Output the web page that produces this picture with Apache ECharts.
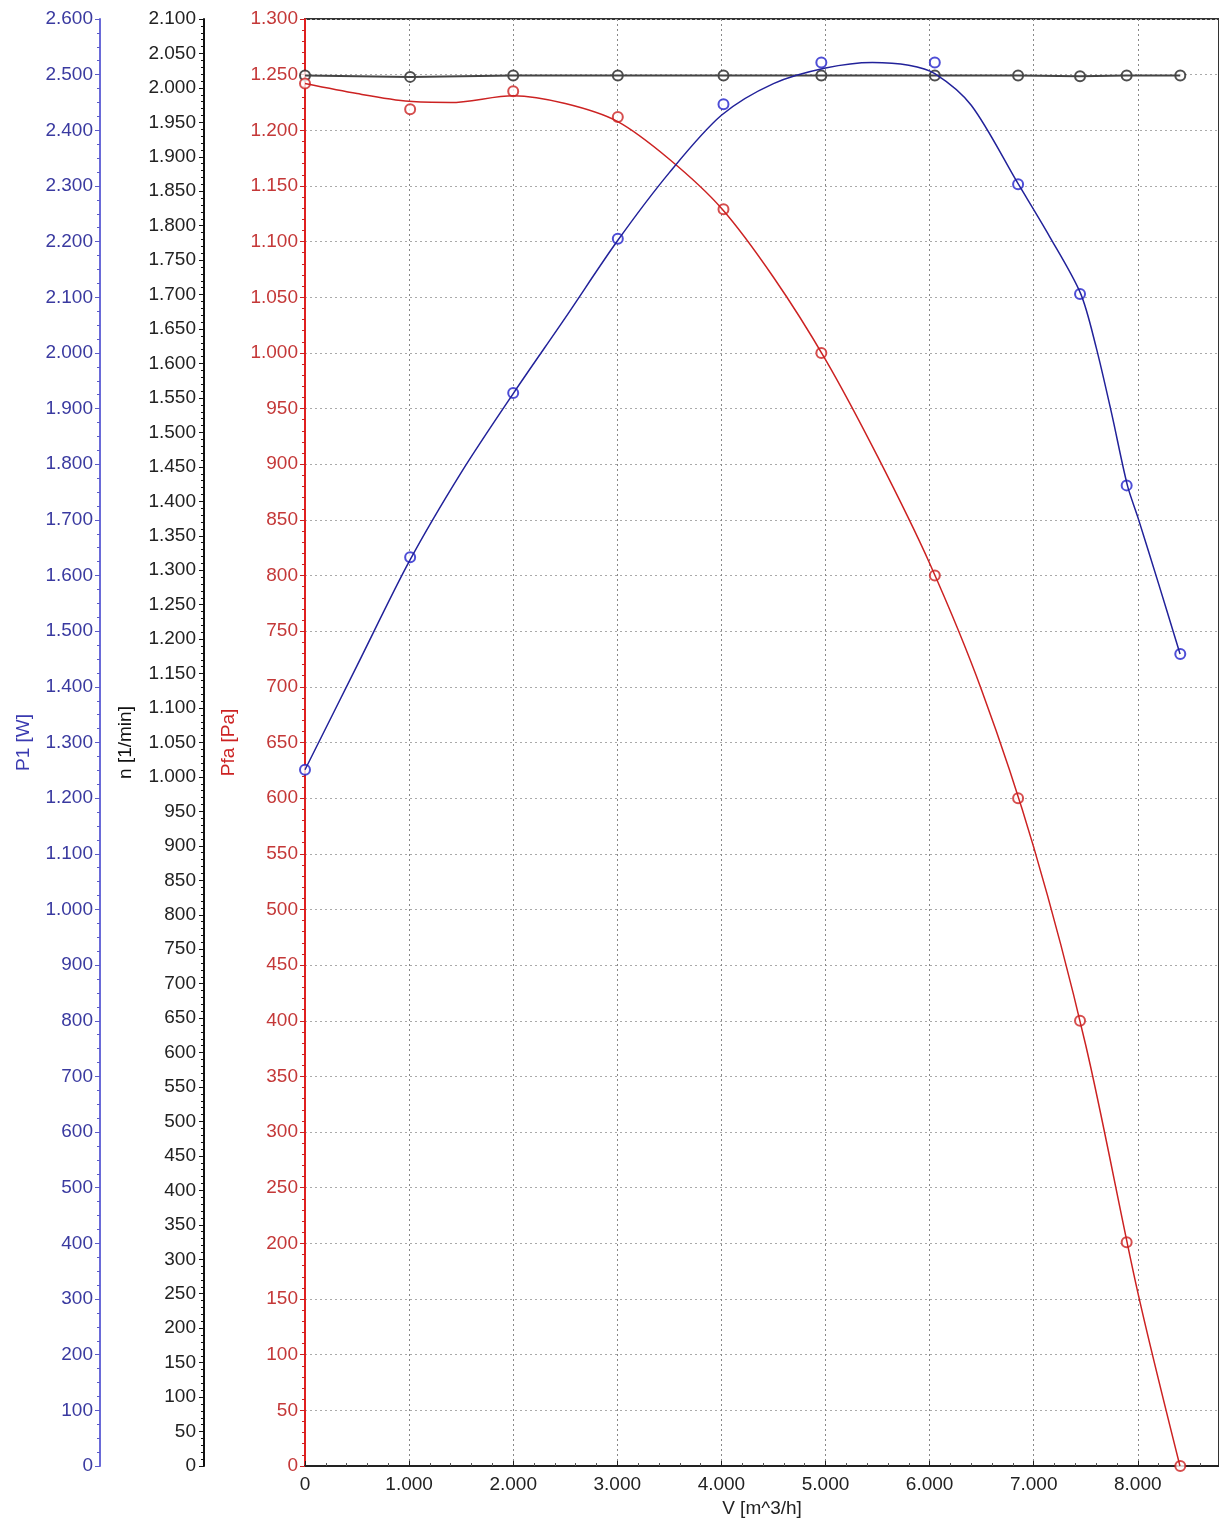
<!DOCTYPE html>
<html>
<head>
<meta charset="utf-8">
<script src="https://cdn.jsdelivr.net/npm/echarts@6/dist/echarts.min.js"></script>
<style>
html, body { margin: 0; padding: 0; background: #fff; }
#chart { width: 1219px; height: 1523px; }
</style>
</head>
<body>
<div id="chart"></div>
<script>
// measured points (V in m^3/h)
var vPoints = [0, 1010, 2000, 3005, 4020, 4960, 6050, 6850, 7445, 7893, 8408];
var pfaPoints = [1242, 1219, 1235, 1212, 1129, 1000, 800, 600, 400, 201, 0];
var p1Points = [1251, 1633, 1928, 2205, 2447, 2522, 2522, 2303, 2106, 1762, 1459];
var nPoints = [2018, 2016, 2018, 2018, 2018, 2018, 2018, 2018, 2017, 2018, 2018];

// fitted curves
var pfaCurveV = [0, 500, 1000, 1400, 2000, 2500, 3000, 3500, 4000, 4500, 5000, 5500, 6000, 6500, 7000, 7500, 8000, 8405];
var pfaCurve = [1242, 1233, 1226, 1225, 1231, 1224, 1208, 1174, 1130, 1068, 994, 907, 811, 697, 556, 378, 156, 0];
var p1CurveV = [0, 500, 1000, 1500, 2000, 2500, 3000, 3500, 4000, 4500, 5000, 5450, 5800, 6050, 6400, 6850, 7150, 7450, 7600, 7750, 7900, 8000, 8200, 8406];
var p1Curve = [1251, 1438, 1625, 1785, 1927, 2063, 2201, 2324, 2427, 2484, 2512, 2522, 2517, 2502, 2445, 2304, 2210, 2107, 2010, 1890, 1762, 1705, 1585, 1459];

var RED = '#cc2222';
var BLUE = '#22229a';
var FONT = 'Liberation Sans';
var FS = 19;

function fmt(v) {
	return String(v).replace(/\B(?=(\d{3})+(?!\d))/g, '.');
}
function pairs(xs, ys) {
	var out = [];
	for (var i = 0; i < xs.length; i++) {
		out.push([xs[i], ys[i]]);
	}
	return out;
}

var myChart = echarts.init(document.getElementById('chart'));
var option = {
	animation: false,
	backgroundColor: '#fff',
	grid: {
		left: 305, right: 0, top: 19, bottom: 57,
		show: true,
		borderColor: '#333',
		borderWidth: 2
	},
	xAxis: {
		type: 'value',
		min: 0, max: 8780, interval: 1000,
		name: 'V [m^3/h]',
		nameLocation: 'middle',
		nameGap: 30,
		nameTextStyle: { color: '#222', fontSize: FS, fontFamily: FONT },
		axisLine: { lineStyle: { color: '#222', width: 2 } },
		axisTick: { inside: true, length: 5, lineStyle: { color: '#222' } },
		minorTick: { show: true, splitNumber: 5, length: 3, lineStyle: { color: '#555' } },
		axisLabel: { showMaxLabel: false, margin: 9, color: '#222', fontSize: FS, fontFamily: FONT, formatter: fmt },
		splitLine: { show: true, lineStyle: { color: '#888', type: [2, 3] } }
	},
	yAxis: [{
			// Pfa
			type: 'value', position: 'left', offset: 0,
			min: 0, max: 1300, interval: 50,
			name: 'Pfa [Pa]', nameLocation: 'middle', nameGap: 67, nameRotate: 90,
			nameTextStyle: { color: RED, fontSize: FS, fontFamily: FONT },
			axisLine: { show: true, lineStyle: { color: '#e02020', width: 2 } },
			axisTick: { length: 5, lineStyle: { color: RED } },
			minorTick: { show: true, splitNumber: 5, length: 3, lineStyle: { color: RED } },
			axisLabel: { margin: 7, color: '#c43838', fontSize: FS, fontFamily: FONT, formatter: fmt },
			splitLine: { show: true, lineStyle: { color: '#aaa', type: [2, 3] } }
		},
		{
			// n
			type: 'value', position: 'left', offset: 101,
			min: 0, max: 2100, interval: 50,
			name: 'n [1/min]', nameLocation: 'middle', nameGap: 69, nameRotate: 90,
			nameTextStyle: { color: '#111', fontSize: FS, fontFamily: FONT },
			axisLine: { show: true, lineStyle: { color: '#111', width: 2 } },
			axisTick: { length: 5, lineStyle: { color: '#111' } },
			minorTick: { show: true, splitNumber: 5, length: 3, lineStyle: { color: '#111' } },
			axisLabel: { margin: 8, color: '#222', fontSize: FS, fontFamily: FONT, formatter: fmt },
			splitLine: { show: false }
		},
		{
			// P1
			type: 'value', position: 'left', offset: 205,
			min: 0, max: 2600, interval: 100,
			name: 'P1 [W]', nameLocation: 'middle', nameGap: 67, nameRotate: 90,
			nameTextStyle: { color: '#3a3ab0', fontSize: FS, fontFamily: FONT },
			axisLine: { show: true, lineStyle: { color: '#6a6ad8', width: 2 } },
			axisTick: { length: 5, lineStyle: { color: '#5a5ac8' } },
			minorTick: { show: true, splitNumber: 4, length: 3, lineStyle: { color: '#5a5ac8' } },
			axisLabel: { margin: 7, color: '#3a3aa0', fontSize: FS, fontFamily: FONT, formatter: fmt },
			splitLine: { show: false }
		}
	],
	series: [{
			name: 'n curve', type: 'line', yAxisIndex: 1,
			data: pairs(vPoints, nPoints),
			showSymbol: false,
			lineStyle: { color: '#444', width: 2 }
		},
		{
			name: 'n', type: 'scatter', yAxisIndex: 1,
			data: pairs(vPoints, nPoints),
			symbol: 'emptyCircle', symbolSize: 10,
			itemStyle: { color: '#222', borderWidth: 1.5 }
		},
		{
			name: 'Pfa curve', type: 'line', yAxisIndex: 0,
			data: pairs(pfaCurveV, pfaCurve),
			smooth: 0.3, showSymbol: false,
			lineStyle: { color: RED, width: 1.5 }
		},
		{
			name: 'Pfa', type: 'scatter', yAxisIndex: 0,
			data: pairs(vPoints, pfaPoints),
			symbol: 'emptyCircle', symbolSize: 10,
			itemStyle: { color: RED, borderWidth: 1.5 }
		},
		{
			name: 'P1 curve', type: 'line', yAxisIndex: 2,
			data: pairs(p1CurveV, p1Curve),
			smooth: 0.3, showSymbol: false,
			lineStyle: { color: BLUE, width: 1.5 }
		},
		{
			name: 'P1', type: 'scatter', yAxisIndex: 2,
			data: pairs(vPoints, p1Points),
			symbol: 'emptyCircle', symbolSize: 10,
			itemStyle: { color: '#2222cc', borderWidth: 1.5 }
		}
	]
};
myChart.setOption(option);
</script>
</body>
</html>
